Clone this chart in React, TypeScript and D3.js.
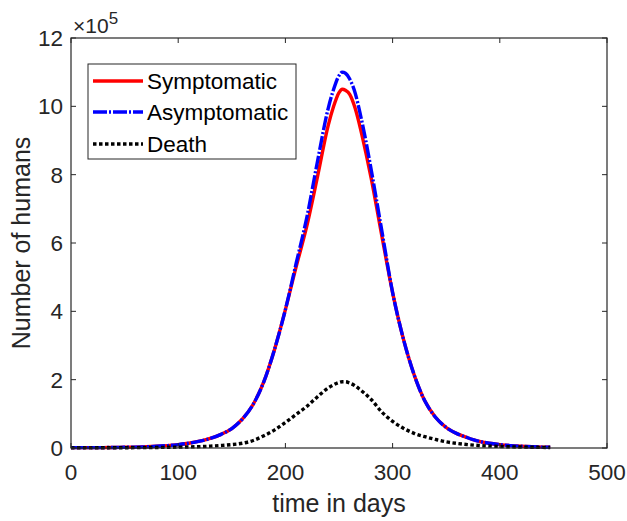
import { useRef, useEffect } from "react";
import * as d3 from "d3";

// time in days
const days = [
  0, 10, 20, 30, 40, 50, 60, 70, 80, 90, 100, 110, 120, 130, 140, 150, 160,
  170, 180, 190, 200, 210, 220, 230, 240, 245, 250, 253, 256, 260, 265, 270,
  275, 280, 290, 300, 310, 320, 330, 340, 350, 360, 370, 380, 390, 400, 410,
  420, 430, 440, 447,
];

// values in units of 10^5 humans
const symptomatic = [
  0.01, 0.01, 0.01, 0.012, 0.015, 0.02, 0.025, 0.035, 0.05, 0.07, 0.1, 0.14,
  0.2, 0.28, 0.4, 0.57, 0.85, 1.28, 1.95, 2.9, 4.05, 5.3, 6.5, 7.95, 9.45,
  10.0, 10.4, 10.5, 10.47, 10.35, 9.95, 9.35, 8.65, 7.9, 6.2, 4.55, 3.2, 2.15,
  1.38, 0.9, 0.6, 0.42, 0.3, 0.2, 0.14, 0.1, 0.07, 0.05, 0.035, 0.025, 0.02,
];

const asymptomatic = [
  0.01, 0.01, 0.01, 0.012, 0.015, 0.02, 0.025, 0.035, 0.05, 0.07, 0.1, 0.14,
  0.2, 0.28, 0.4, 0.57, 0.85, 1.28, 1.95, 2.9, 4.05, 5.4, 6.75, 8.4, 9.95,
  10.5, 10.9, 11.0, 10.97, 10.8, 10.4, 9.75, 9.0, 8.15, 6.35, 4.55, 3.2, 2.15,
  1.38, 0.9, 0.6, 0.42, 0.3, 0.2, 0.14, 0.1, 0.07, 0.05, 0.035, 0.025, 0.02,
];

const death = [
  0.005, 0.005, 0.005, 0.006, 0.007, 0.008, 0.01, 0.012, 0.015, 0.02, 0.025,
  0.03, 0.04, 0.055, 0.075, 0.1, 0.14, 0.22, 0.36, 0.53, 0.75, 0.98, 1.22,
  1.5, 1.76, 1.85, 1.92, 1.94, 1.94, 1.9, 1.82, 1.7, 1.57, 1.42, 1.05, 0.78,
  0.58, 0.43, 0.33, 0.25, 0.18, 0.135, 0.1, 0.075, 0.058, 0.045, 0.035, 0.028,
  0.022, 0.018, 0.015,
];

const xTicks = [0, 100, 200, 300, 400, 500];
const yTicks = [0, 2, 4, 6, 8, 10, 12];
const seriesNames = ["Symptomatic", "Asymptomatic", "Death"];
const seriesColors = ["#ff0000", "#0000ff", "#000000"];
const seriesDash = ["none", "14,2,2,2", "3.5,2.5"];

function App() {
  const svgRef = useRef<SVGSVGElement>(null);

  useEffect(() => {
    const w = 627;
    const h = 521;
    const left = 71;
    const right = 607;
    const top = 38;
    const bottom = 448;
    const font = "'Liberation Sans', Arial, sans-serif";
    const axisColor = "#262626";

    const svg = d3.select(svgRef.current);
    svg.selectAll("*").remove();
    svg.attr("width", w).attr("height", h);

    const x = d3.scaleLinear().domain([0, 500]).range([left, right]);
    const y = d3.scaleLinear().domain([0, 12]).range([bottom, top]);

    svg.append("rect").attr("width", w).attr("height", h).attr("fill", "#fff");

    // curves
    const all = [symptomatic, asymptomatic, death];
    const line = d3
      .line<number>()
      .x((_, i) => x(days[i]))
      .y((d) => y(d))
      .curve(d3.curveMonotoneX);

    all.forEach((vals, k) => {
      svg
        .append("path")
        .attr("d", line(vals))
        .attr("fill", "none")
        .attr("stroke", seriesColors[k])
        .attr("stroke-width", 3.4)
        .attr("stroke-dasharray", seriesDash[k]);
    });

    // box + ticks
    svg
      .append("rect")
      .attr("x", left)
      .attr("y", top)
      .attr("width", right - left)
      .attr("height", bottom - top)
      .attr("fill", "none")
      .attr("stroke", axisColor)
      .attr("stroke-width", 1.2);

    const tl = 5;
    xTicks.forEach((t) => {
      svg.append("line").attr("x1", x(t)).attr("x2", x(t)).attr("y1", bottom).attr("y2", bottom - tl).attr("stroke", axisColor);
      svg.append("line").attr("x1", x(t)).attr("x2", x(t)).attr("y1", top).attr("y2", top + tl).attr("stroke", axisColor);
      svg
        .append("text")
        .attr("x", x(t))
        .attr("y", 480)
        .attr("text-anchor", "middle")
        .attr("font-family", font)
        .attr("font-size", 22.5)
        .attr("fill", axisColor)
        .text(t);
    });
    yTicks.forEach((t) => {
      svg.append("line").attr("x1", left).attr("x2", left + tl).attr("y1", y(t)).attr("y2", y(t)).attr("stroke", axisColor);
      svg.append("line").attr("x1", right).attr("x2", right - tl).attr("y1", y(t)).attr("y2", y(t)).attr("stroke", axisColor);
      svg
        .append("text")
        .attr("x", 63)
        .attr("y", y(t))
        .attr("dy", "0.36em")
        .attr("text-anchor", "end")
        .attr("font-family", font)
        .attr("font-size", 22.5)
        .attr("fill", axisColor)
        .text(t);
    });

    // exponent
    const ex = svg
      .append("text")
      .attr("x", 73)
      .attr("y", 33)
      .attr("font-family", font)
      .attr("font-size", 21)
      .attr("fill", axisColor);
    ex.append("tspan").text("\u00d710");
    ex.append("tspan").attr("dy", -9).attr("font-size", 17).text("5");

    // axis labels
    svg
      .append("text")
      .attr("x", (left + right) / 2)
      .attr("y", 512)
      .attr("text-anchor", "middle")
      .attr("font-family", font)
      .attr("font-size", 25)
      .attr("fill", axisColor)
      .text("time in days");
    svg
      .append("text")
      .attr("transform", `translate(30, ${(top + bottom) / 2}) rotate(-90)`)
      .attr("text-anchor", "middle")
      .attr("font-family", font)
      .attr("font-size", 25)
      .attr("fill", axisColor)
      .text("Number of humans");

    // legend
    const lg = svg.append("g");
    lg.append("rect")
      .attr("x", 88)
      .attr("y", 64)
      .attr("width", 208)
      .attr("height", 95)
      .attr("fill", "#fff")
      .attr("stroke", axisColor)
      .attr("stroke-width", 1);
    const rows = [81, 112, 144];
    seriesNames.forEach((name, k) => {
      lg.append("line")
        .attr("x1", 93)
        .attr("x2", 143)
        .attr("y1", rows[k])
        .attr("y2", rows[k])
        .attr("stroke", seriesColors[k])
        .attr("stroke-width", 3.4)
        .attr("stroke-dasharray", seriesDash[k]);
      lg.append("text")
        .attr("x", 147)
        .attr("y", rows[k])
        .attr("dy", "0.36em")
        .attr("font-family", font)
        .attr("font-size", 22.5)
        .attr("fill", "#000")
        .text(name);
    });
  }, []);

  return (
    <svg
      ref={svgRef}
      style={{ position: "absolute", left: 0, top: 0, display: "block" }}
    ></svg>
  );
}

export default App;
